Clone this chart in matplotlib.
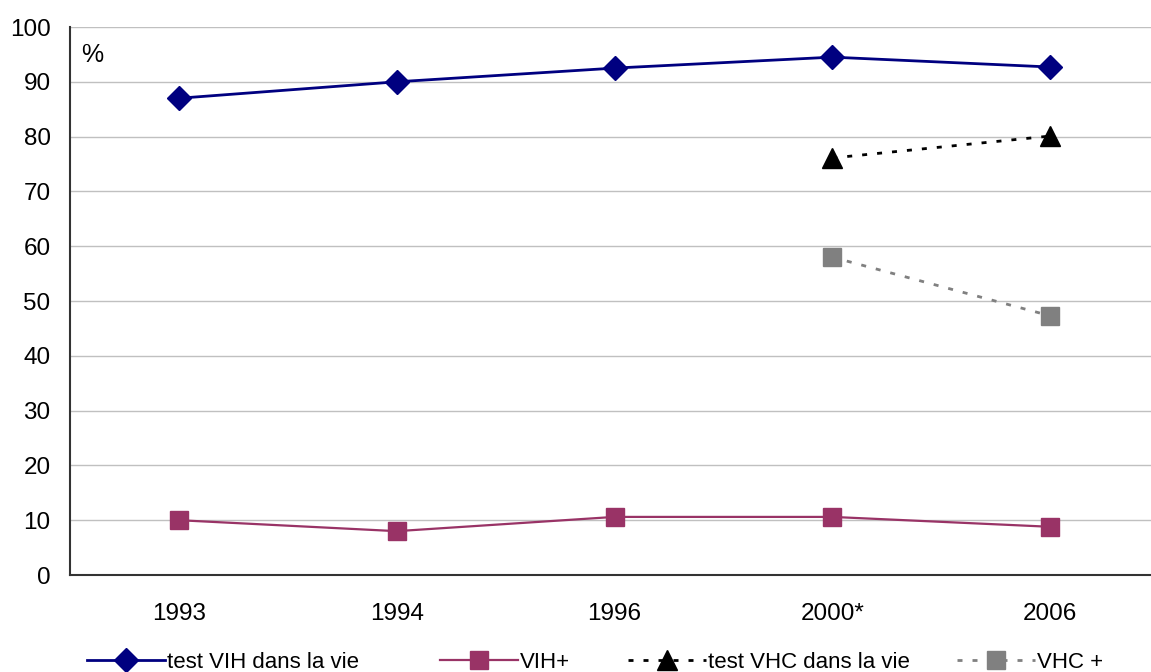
import matplotlib.pyplot as plt
import numpy as np

plt.rcParams['font.family'] = ['Liberation Sans', 'DejaVu Sans']

# survey years (2000 marked with an asterisk)
years = ["1993", "1994", "1996", "2000*", "2006"]

test_vih = [87.0, 90.0, 92.5, 94.5, 92.7]
vih_pos = [10.0, 8.0, 10.6, 10.6, 8.8]
test_vhc = [np.nan, np.nan, np.nan, 76.1, 80.1]
vhc_pos = [np.nan, np.nan, np.nan, 58.0, 47.3]

fig = plt.figure(figsize=(11.51, 6.72), dpi=100)
# plot area runs slightly past the right edge of the figure
ax = fig.add_axes([70 / 1151, 1 - 575 / 672, 1089 / 1151, 548 / 672])

x = np.arange(len(years))

lines = []
lines += ax.plot(x, test_vih, color="#000080", lw=2, marker="D", ms=12,
                 label="test VIH dans la vie")
lines += ax.plot(x, vih_pos, color="#993366", lw=1.6, marker="s", ms=13,
                 label="VIH+")
lines += ax.plot(x, test_vhc, color="black", lw=2, ls=(0, (1.8, 3.6)),
                 marker="^", ms=14, label="test VHC dans la vie")
lines += ax.plot(x, vhc_pos, color="#808080", lw=2, ls=(0, (1.8, 3.6)),
                 marker="s", ms=13, label="VHC +")

ax.set_xlim(-0.5, 4.5)
ax.set_ylim(0, 100)
ax.set_yticks(range(0, 101, 10))
ax.set_xticks(x)
ax.set_xticklabels(years)
ax.tick_params(axis="both", length=0, labelsize=17.5)
ax.tick_params(axis="y", pad=14)
ax.tick_params(axis="x", pad=20)

ax.grid(axis="y", color="#c0c0c0", lw=1)
ax.set_axisbelow(True)
for side in ["top", "right"]:
    ax.spines[side].set_visible(False)
ax.spines["left"].set_color("#333333")
ax.spines["bottom"].set_color("#333333")
ax.spines["left"].set_linewidth(1.5)
ax.spines["bottom"].set_linewidth(1.5)

ax.text(0.01, 0.97, "%", transform=ax.transAxes, fontsize=18,
        ha="left", va="top")

# one legend per entry so each sits at its own spot along the bottom
legend_x = [87, 440, 628, 957]
for line, lx in zip(lines, legend_x):
    leg = fig.legend(handles=[line], loc="center left",
                     bbox_to_anchor=(lx / 1151, 1 - 662 / 672),
                     frameon=False, fontsize=16, handlelength=3.5,
                     handletextpad=0.1, borderpad=0, borderaxespad=0)

fig.savefig("out.png", dpi=100)
